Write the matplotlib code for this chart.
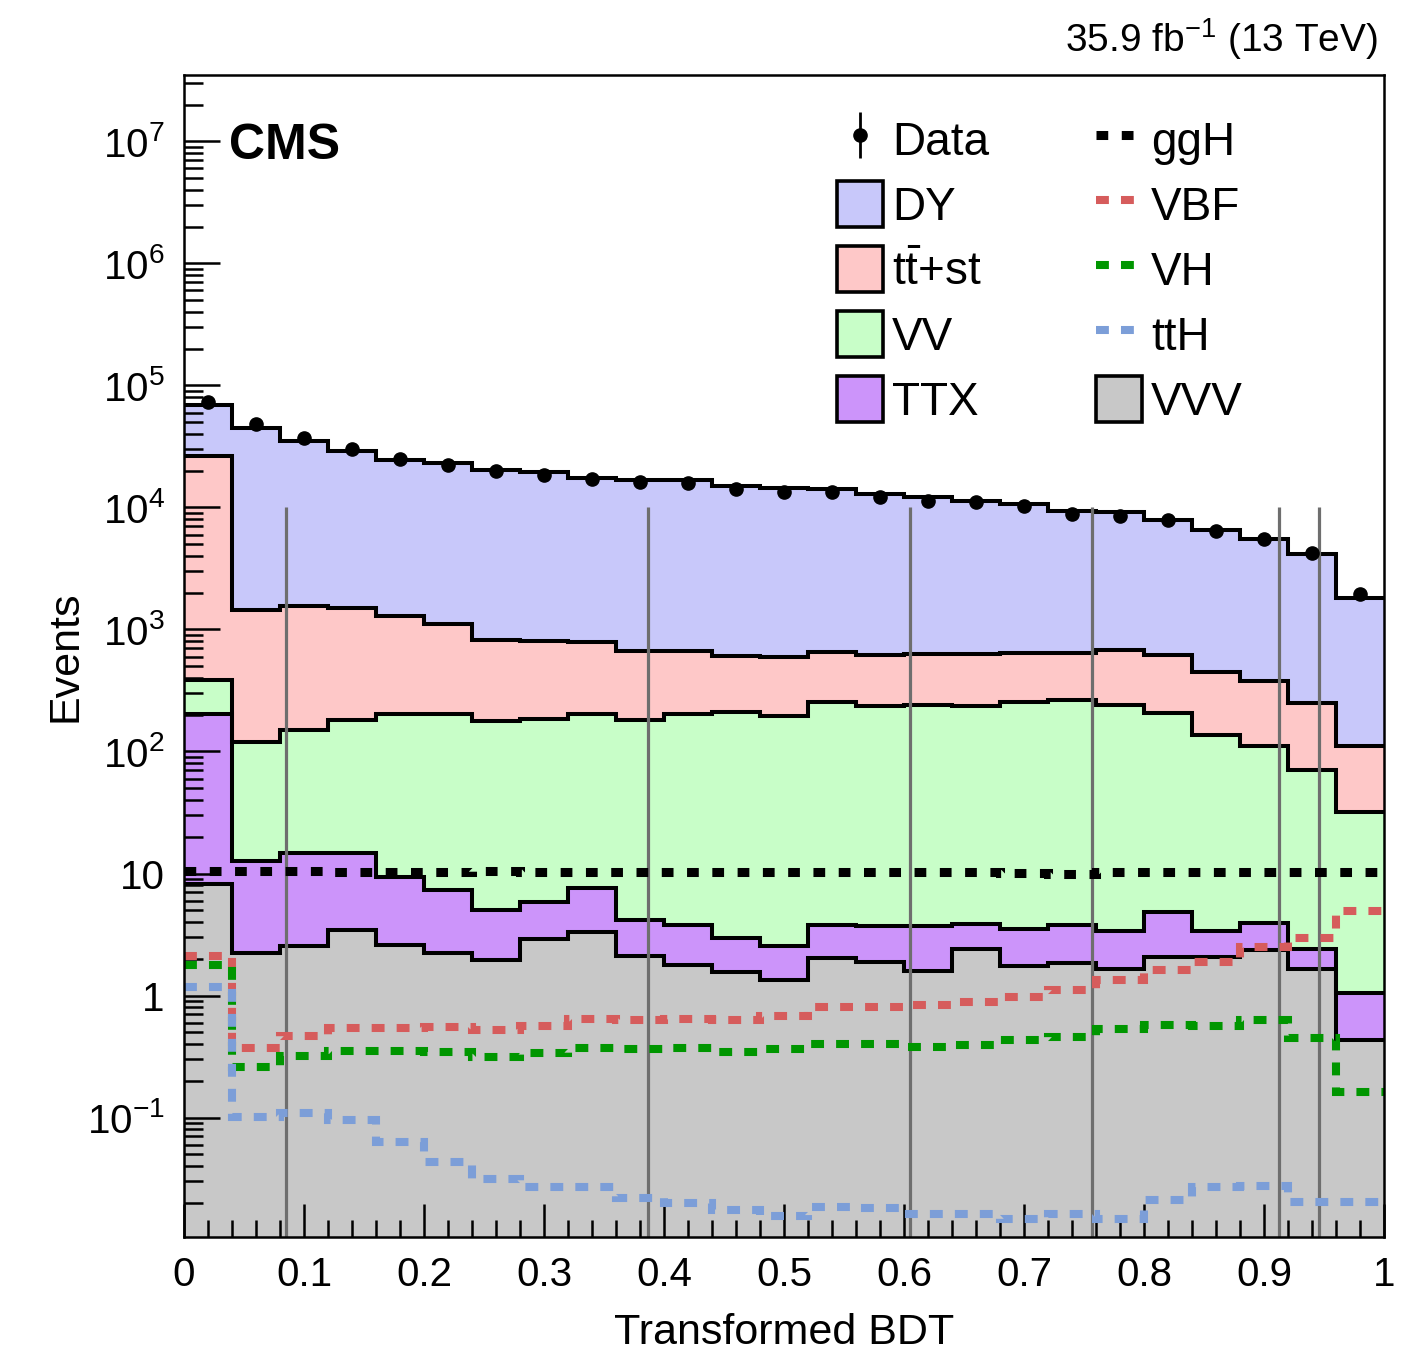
import numpy as np
import matplotlib
matplotlib.use("Agg")
import matplotlib.pyplot as plt
from matplotlib.patches import Patch
from matplotlib.lines import Line2D
from matplotlib.ticker import FixedLocator, FuncFormatter, LogLocator, NullFormatter, MultipleLocator

plt.rcParams['font.family'] = ['Liberation Sans', 'DejaVu Sans']
plt.rcParams['mathtext.fontset'] = 'custom'
plt.rcParams['mathtext.rm'] = 'Liberation Sans'
plt.rcParams['mathtext.it'] = 'Liberation Sans:italic'
plt.rcParams['mathtext.bf'] = 'Liberation Sans:bold'
plt.rcParams['mathtext.default'] = 'regular'

# 25 bins of the transformed BDT output
bin_edges = np.linspace(0.0, 1.0, 26)
bin_centers = 0.5 * (bin_edges[:-1] + bin_edges[1:])

# observed events
data = [72600, 48300, 37100, 30100, 24900, 22400, 20000, 18500, 17000, 16100,
        15900, 14200, 13400, 13300, 12100, 11400, 11000, 10200, 8830, 8550,
        7930, 6440, 5510, 4230, 1950]

# backgrounds (stacked bottom to top: VVV, TTX, VV, tt+st, DY)
vvv = [8.24, 2.23, 2.57, 3.46, 2.60, 2.23, 1.94, 2.90, 3.30, 2.12,
       1.79, 1.57, 1.33, 2.03, 1.87, 1.60, 2.40, 1.75, 1.84, 1.64,
       2.06, 2.06, 2.34, 1.64, 0.433]
ttx = [195.8, 10.5, 12.1, 11.2, 6.74, 5.12, 3.04, 2.93, 4.38, 2.05,
       1.96, 1.38, 1.22, 1.77, 1.86, 2.08, 1.45, 1.75, 1.96, 1.71,
       2.82, 1.35, 1.58, 0.78, 0.617]
vv = [183, 106, 134, 165, 195, 197, 174, 180, 196, 178,
      200, 206, 194, 253, 234, 238, 233, 250, 258, 239,
      201, 132, 107, 68.4, 30.6]
ttst = [25800, 1331, 1411, 1330, 1086, 906, 645, 617, 589, 478,
        465, 392, 397, 392, 383, 387, 390, 387, 379, 434,
        415, 309, 264, 178, 79.4]
dy = [43300, 43450, 33240, 27290, 23210, 21990, 19580, 18800, 16710, 16240,
      15980, 14300, 13810, 13550, 12280, 11470, 10670, 10060, 8760, 8480,
      7310, 6120, 5125, 3930, 1700]

# Higgs signal templates (not stacked)
ggh = [10.4, 10.4, 10.4, 10.3, 10.2, 10.3, 10.4, 10.3, 10.2, 10.3,
       10.3, 10.2, 10.2, 10.3, 10.2, 10.3, 10.3, 10.1, 10.0, 10.2,
       10.2, 10.2, 10.2, 10.2, 10.2]
vbf = [2.11, 0.37, 0.47, 0.54, 0.54, 0.55, 0.52, 0.56, 0.64, 0.63,
       0.64, 0.63, 0.68, 0.80, 0.80, 0.83, 0.88, 0.97, 1.10, 1.33,
       1.62, 1.90, 2.52, 2.95, 4.95]
vh = [1.79, 0.26, 0.32, 0.354, 0.354, 0.343, 0.313, 0.341, 0.37, 0.366,
      0.37, 0.347, 0.365, 0.40, 0.40, 0.38, 0.39, 0.43, 0.456, 0.53,
      0.575, 0.565, 0.63, 0.45, 0.163]
tth = [1.17, 0.102, 0.109, 0.096, 0.063, 0.0436, 0.0313, 0.0272, 0.0269, 0.0218,
       0.0199, 0.0175, 0.0156, 0.0186, 0.018, 0.0162, 0.0162, 0.0147, 0.0162, 0.0147,
       0.0211, 0.0272, 0.0275, 0.0202, 0.0202]

# category boundaries in the BDT output
category_bounds = [0.085, 0.3864, 0.605, 0.757, 0.9125, 0.946]

y_min, y_max = 0.0105, 3.5e7

fig = plt.figure(figsize=(14.24, 13.52), dpi=100)
ax = fig.add_axes([184 / 1424, 1 - 1237 / 1352, 1200 / 1424, 1162 / 1352])

stack = [("VVV", vvv, "#c8c8c8"),
         ("TTX", ttx, "#cc94fa"),
         ("VV", vv, "#c8fec8"),
         (r"$t\bar{t}$+st", ttst, "#fec8c8"),
         ("DY", dy, "#c8c8fa")]

bottom = np.full(len(bin_centers), 1e-3)
tops = []
for name, vals, col in stack:
    top = bottom + np.array(vals, dtype=float)
    ax.stairs(top, bin_edges, baseline=bottom, fill=True, color=col, lw=0, zorder=1)
    tops.append(top)
    bottom = top
for top in tops:
    ax.stairs(top, bin_edges, baseline=None, color="black", lw=2.9, zorder=2)

ax.vlines(category_bounds, y_min, 1e4, color="#6e6e6e", lw=2.3, zorder=3)

signals = [("ggH", ggh, "black", 6.5, (1.3, 1.5)),
           ("VBF", vbf, "#d65c5c", 5.8, (1.6, 1.5)),
           ("VH", vh, "#009600", 5.8, (1.6, 1.5)),
           ("ttH", tth, "#7c9ed8", 5.8, (1.6, 1.5))]
for name, vals, col, lw, dash in signals:
    ax.stairs(vals, bin_edges, baseline=None, color=col, lw=lw,
              linestyle=(0, dash), zorder=4)

data_handle = ax.errorbar(bin_centers, data, yerr=np.sqrt(data), fmt="o", color="black",
                          ms=9.5, elinewidth=2, capsize=0, zorder=5)

ax.set_xlim(0, 1)
ax.set_yscale("log")
ax.set_ylim(y_min, y_max)

def ylabel_fmt(v, pos):
    e = int(round(np.log10(v)))
    if e == 0:
        return "1"
    if e == 1:
        return "10"
    return r"$10^{%d}$" % e if e > 0 else r"$10^{-%d}$" % (-e)

ax.yaxis.set_major_locator(FixedLocator([10.0 ** k for k in range(-1, 8)]))
ax.yaxis.set_major_formatter(FuncFormatter(ylabel_fmt))
ax.yaxis.set_minor_locator(LogLocator(base=10, subs=np.arange(2, 10), numticks=30))
ax.yaxis.set_minor_formatter(NullFormatter())
ax.xaxis.set_major_locator(MultipleLocator(0.1))
ax.xaxis.set_minor_locator(MultipleLocator(0.02))
ax.xaxis.set_major_formatter(FuncFormatter(lambda v, pos: f"{v:g}"))

ax.tick_params(axis="both", which="both", direction="in", top=False, right=False,
               labelsize=29, width=1.8)
ax.tick_params(axis="y", which="major", length=26, pad=14)
ax.tick_params(axis="y", which="minor", length=13.5)
ax.tick_params(axis="x", which="major", length=24, pad=14)
ax.tick_params(axis="x", which="minor", length=12)
for sp in ax.spines.values():
    sp.set_linewidth(1.8)
    sp.set_zorder(6)

ax.set_xlabel("Transformed BDT", fontsize=31, labelpad=13)
ax.set_ylabel("Events", fontsize=31, labelpad=1)

fig.text(229 / 1424, 1 - 159 / 1352, "CMS", fontsize=36, fontweight="bold", va="baseline")
fig.text(1378 / 1424, 1 - 52 / 1352, r"35.9 fb$^{-1}$ (13 TeV)", fontsize=28,
         ha="right", va="baseline")

handles = [data_handle]
labels = ["Data"]
for name, vals, col in reversed(stack[1:]):
    handles.append(Patch(facecolor=col, edgecolor="black", lw=2.6, joinstyle="round"))
    labels.append(name)
for name, vals, col, lw, dash in signals:
    handles.append(Line2D([], [], color=col, lw=lw, linestyle=(0, dash)))
    labels.append(name)
handles.append(Patch(facecolor=stack[0][2], edgecolor="black", lw=2.6, joinstyle="round"))
labels.append("VVV")

ax.legend(handles, labels, ncol=2, loc="upper left",
          bbox_to_anchor=(837 / 1424, 1 - 116 / 1352), bbox_transform=fig.transFigure,
          frameon=False, fontsize=33, handlelength=1.0, handleheight=1.17,
          handletextpad=0.2, labelspacing=0.36, columnspacing=2.33, borderpad=0,
          borderaxespad=0)

fig.savefig("out.png", dpi=100)
